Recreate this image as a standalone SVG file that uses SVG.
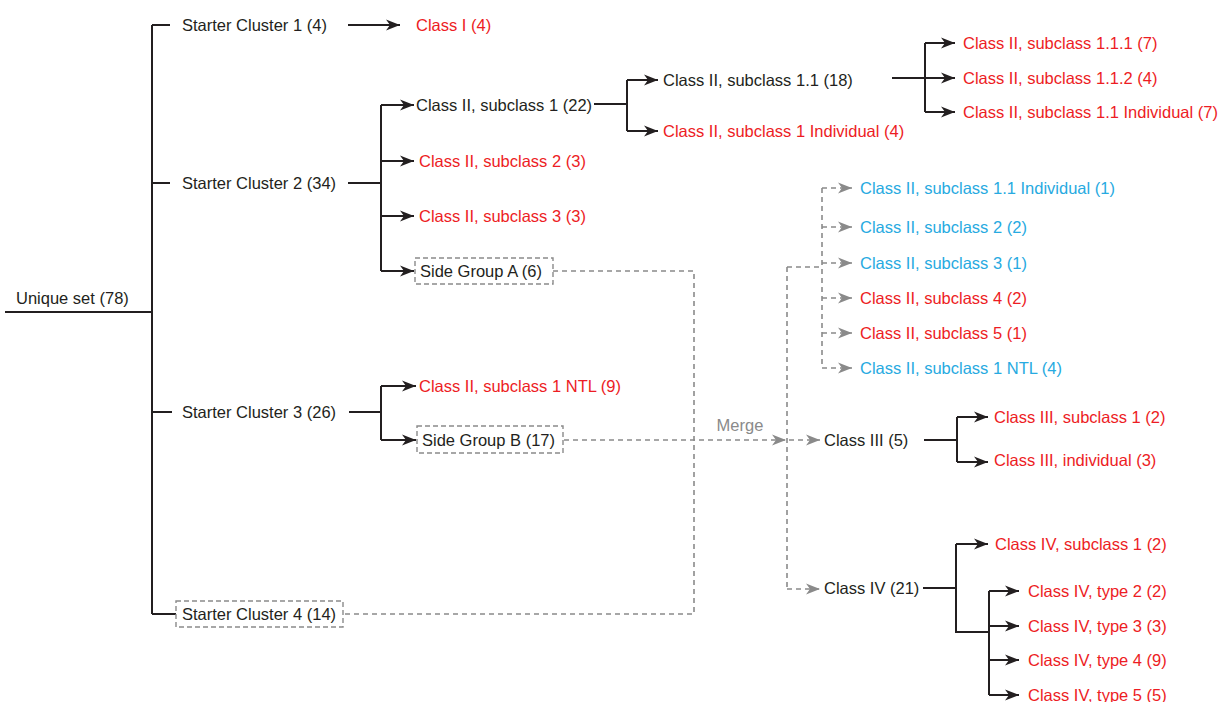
<svg xmlns="http://www.w3.org/2000/svg" width="1225" height="702" viewBox="0 0 1225 702">
<defs>
<style>
text{font-family:"Liberation Sans",Arial,sans-serif;font-size:16.5px;fill:#231f20}
.r{fill:#ed1c24}
.b{fill:#27aae1}
.g{fill:#8a8a8a}
.ln{fill:none;stroke:#231f20;stroke-width:2}
.ar{fill:none;stroke:#231f20;stroke-width:2;marker-end:url(#ab)}
.dl{fill:none;stroke:#8a8a8a;stroke-width:1.6;stroke-dasharray:5 4}
.da{fill:none;stroke:#8a8a8a;stroke-width:1.6;stroke-dasharray:5 4;marker-end:url(#ag)}
.box{fill:none;stroke:#8a8a8a;stroke-width:1.4;stroke-dasharray:5 3}
</style>
<marker id="ab" markerWidth="16" markerHeight="12" refX="14" refY="6" orient="auto" markerUnits="userSpaceOnUse"><path d="M0,0.5 L14,6 L0,11.5 L4,6 z" fill="#231f20"/></marker>
<marker id="ag" markerWidth="16" markerHeight="12" refX="14" refY="6" orient="auto" markerUnits="userSpaceOnUse"><path d="M0,0.5 L14,6 L0,11.5 L4,6 z" fill="#8a8a8a"/></marker>
</defs>
<rect width="1225" height="702" fill="#ffffff"/>
<g id="connectors">
<path class="ln" d="M5,312 H152 M152,25 V614 M152,25 H170 M152,183 H170 M152,412 H172 M152,614 H176"/>
<path class="ar" d="M348,25 H400"/>
<path class="ln" d="M348,183 H381 M381,105 V271"/>
<path class="ar" d="M381,105 H414"/>
<path class="ar" d="M381,161 H414"/>
<path class="ar" d="M381,216 H414"/>
<path class="ar" d="M381,271 H414"/>
<path class="ln" d="M594,104 H627 M627,80 V131"/>
<path class="ar" d="M627,80 H658"/>
<path class="ar" d="M627,131 H658"/>
<path class="ar" d="M892,78 H955"/>
<path class="ln" d="M925,43 V112"/>
<path class="ar" d="M925,43 H955"/>
<path class="ar" d="M925,112 H955"/>
<path class="ln" d="M349,412 H381 M381,386 V440"/>
<path class="ar" d="M381,386 H416"/>
<path class="ar" d="M381,440 H416"/>
<path class="dl" d="M553,271 H694 V614 H343"/>
<path class="da" d="M564,440 H786"/>
<path class="dl" d="M787,267 V589 M787,267 H822 M822,188 V368"/>
<path class="da" d="M822,188 H852"/>
<path class="da" d="M822,227 H852"/>
<path class="da" d="M822,263 H852"/>
<path class="da" d="M822,298 H852"/>
<path class="da" d="M822,333 H852"/>
<path class="da" d="M822,368 H852"/>
<path class="da" d="M789,440 H820"/>
<path class="da" d="M787,589 H820"/>
<path class="ln" d="M924,440 H957 M957,417 V462"/>
<path class="ar" d="M957,417 H988"/>
<path class="ar" d="M957,462 H988"/>
<path class="ln" d="M923,588 H956 M956,544 V632 H989 M989,591 V695"/>
<path class="ar" d="M956,544 H988"/>
<path class="ar" d="M989,591 H1019"/>
<path class="ar" d="M989,626 H1019"/>
<path class="ar" d="M989,660 H1019"/>
<path class="ar" d="M989,695 H1019"/>
</g>
<g id="unique-set"><text x="16" y="304">Unique set (78)</text></g>
<g id="starter-cluster-1"><text x="182" y="31">Starter Cluster 1 (4)</text></g>
<g id="class-i"><text class="r" x="416" y="31">Class I (4)</text></g>
<g id="starter-cluster-2"><text x="182" y="189">Starter Cluster 2 (34)</text></g>
<g id="c2-sub1"><text x="416" y="111">Class II, subclass 1 (22)</text></g>
<g id="c2-sub2"><text class="r" x="419" y="167">Class II, subclass 2 (3)</text></g>
<g id="c2-sub3"><text class="r" x="419" y="222">Class II, subclass 3 (3)</text></g>
<g id="side-group-a"><rect class="box" x="415" y="258" width="138" height="26"/><text x="420" y="277">Side Group A (6)</text></g>
<g id="c2-sub1-1"><text x="663" y="86">Class II, subclass 1.1 (18)</text></g>
<g id="c2-sub1-ind"><text class="r" x="663" y="137">Class II, subclass 1 Individual (4)</text></g>
<g id="c2-sub1-1-1"><text class="r" x="963" y="49">Class II, subclass 1.1.1 (7)</text></g>
<g id="c2-sub1-1-2"><text class="r" x="963" y="84">Class II, subclass 1.1.2 (4)</text></g>
<g id="c2-sub1-1-ind"><text class="r" x="963" y="118">Class II, subclass 1.1 Individual (7)</text></g>
<g id="starter-cluster-3"><text x="182" y="418">Starter Cluster 3 (26)</text></g>
<g id="c2-sub1-ntl"><text class="r" x="419" y="392">Class II, subclass 1 NTL (9)</text></g>
<g id="side-group-b"><rect class="box" x="417" y="426" width="146" height="27"/><text x="422" y="446">Side Group B (17)</text></g>
<g id="starter-cluster-4"><rect class="box" x="176" y="601" width="167" height="26"/><text x="182" y="620">Starter Cluster 4 (14)</text></g>
<g id="merge-label"><text class="g" x="740" y="431" text-anchor="middle">Merge</text></g>
<g id="m-sub1-1-ind"><text class="b" x="860" y="194">Class II, subclass 1.1 Individual (1)</text></g>
<g id="m-sub2"><text class="b" x="860" y="233">Class II, subclass 2 (2)</text></g>
<g id="m-sub3"><text class="b" x="860" y="269">Class II, subclass 3 (1)</text></g>
<g id="m-sub4"><text class="r" x="860" y="304">Class II, subclass 4 (2)</text></g>
<g id="m-sub5"><text class="r" x="860" y="339">Class II, subclass 5 (1)</text></g>
<g id="m-sub1-ntl"><text class="b" x="860" y="374">Class II, subclass 1 NTL (4)</text></g>
<g id="class-iii"><text x="824" y="446">Class III (5)</text></g>
<g id="c3-sub1"><text class="r" x="994" y="423">Class III, subclass 1 (2)</text></g>
<g id="c3-ind"><text class="r" x="994" y="466">Class III, individual (3)</text></g>
<g id="class-iv"><text x="824" y="594">Class IV (21)</text></g>
<g id="c4-sub1"><text class="r" x="995" y="550">Class IV, subclass 1 (2)</text></g>
<g id="c4-t2"><text class="r" x="1028" y="597">Class IV, type 2 (2)</text></g>
<g id="c4-t3"><text class="r" x="1028" y="632">Class IV, type 3 (3)</text></g>
<g id="c4-t4"><text class="r" x="1028" y="666">Class IV, type 4 (9)</text></g>
<g id="c4-t5"><text class="r" x="1028" y="701">Class IV, type 5 (5)</text></g>
</svg>
